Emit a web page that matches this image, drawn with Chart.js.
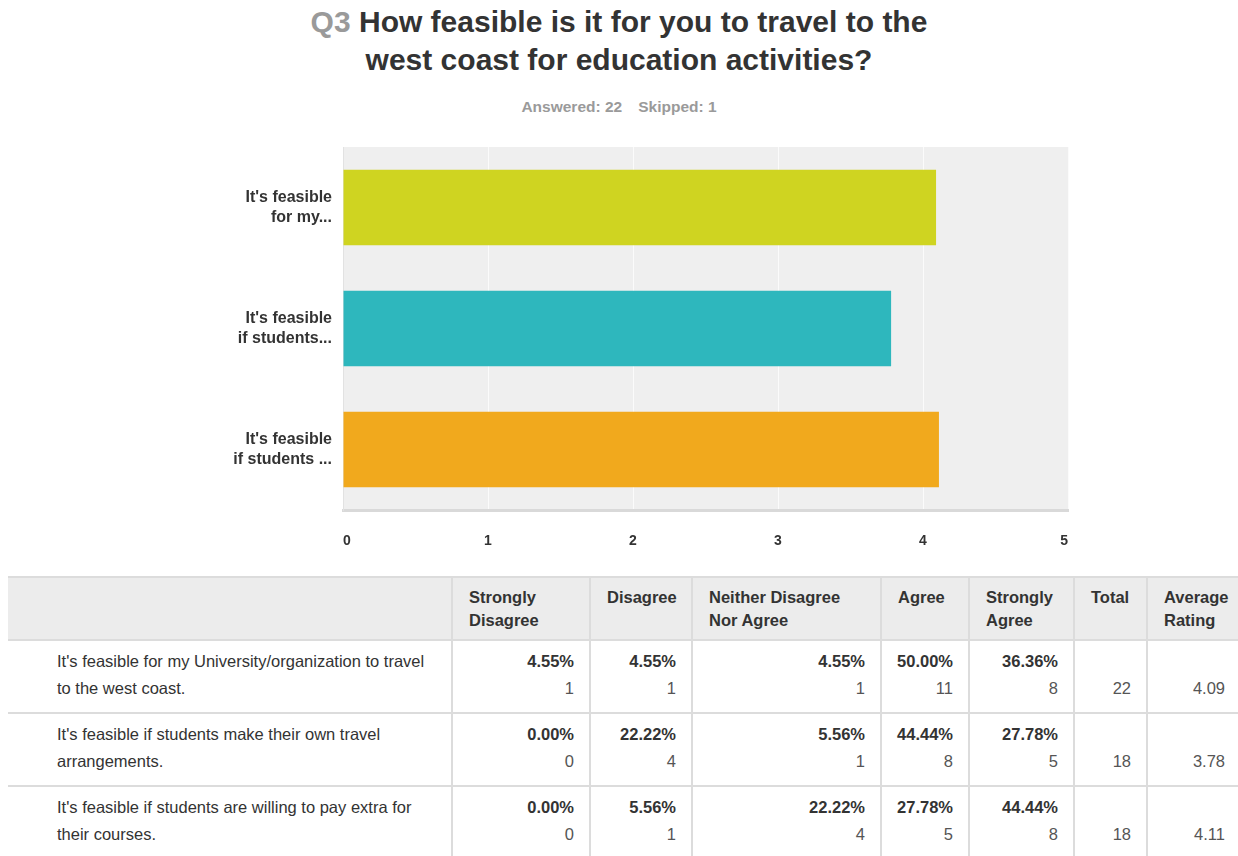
<!DOCTYPE html>
<html>
<head>
<meta charset="utf-8">
<script src="https://cdn.jsdelivr.net/npm/chart.js@4/dist/chart.umd.min.js"></script>
<style>
  body { margin: 0; width: 1238px; height: 856px; overflow: hidden; background: #fff;
         font-family: "Liberation Sans", Arial, Helvetica, sans-serif; position: relative; }
  #title { position: absolute; top: 3px; left: 0; width: 1238px; text-align: center;
           font-weight: bold; font-size: 30px; line-height: 38px; color: #333; }
  #title .q { color: #9a9a9a; }
  #sub { position: absolute; top: 98px; left: 0; width: 1238px; text-align: center;
         font-weight: bold; font-size: 15.5px; color: #9a9a9a; }
  #sub span { margin: 0 8px; }
  #chartBox { position: absolute; left: 0; top: 140px; }
  table { position: absolute; left: 8px; top: 576px; border-collapse: collapse; table-layout: fixed;
          width: 1233px; color: #333; font-size: 16.5px; }
  th { background: #ececec; font-weight: bold; font-size: 16.5px; text-align: left; vertical-align: top;
       padding: 8px 8px 0 16px; height: 53px; line-height: 23px; border: 2px solid #dcdcdc; }
  td { border: 2px solid #dcdcdc; border-top: 0; height: 64px; padding: 7px 15px 0 8px; vertical-align: top;
       line-height: 27px; text-align: right; }
  td.lbl { text-align: left; padding-left: 49px; padding-right: 20px; }
  td b { color: #333; }
  td .n { color: #555; }
  tr > :first-child { border-left: 0; }
</style>
</head>
<body>
<div id="title"><span class="q">Q3</span> How feasible is it for you to travel to the<br>west coast for education activities?</div>
<div id="sub"><span>Answered: 22</span><span>Skipped: 1</span></div>
<div id="chartBox"><canvas id="myChart" width="1100" height="420"></canvas></div>
<table id="tbl"></table>

<script>
// bar chart data
var rowLabels = [["It's feasible", "for my..."], ["It's feasible", "if students..."], ["It's feasible", "if students ..."]];
var avgRating = [4.09, 3.78, 4.11];
var barColors = ['#cfd421', '#2eb7bd', '#f1a91d'];
var xTicks = [0, 1, 2, 3, 4, 5];

// table data
var fullLabels = [
  "It's feasible for my University/organization to travel to the west coast.",
  "It's feasible if students make their own travel arrangements.",
  "It's feasible if students are willing to pay extra for their courses."
];
var headers = [["Strongly", "Disagree"], ["Disagree"], ["Neither Disagree", "Nor Agree"], ["Agree"], ["Strongly", "Agree"], ["Total"], ["Average", "Rating"]];
var pctRows = [
  [4.55, 4.55, 4.55, 50.00, 36.36],
  [0.00, 22.22, 5.56, 44.44, 27.78],
  [0.00, 5.56, 22.22, 27.78, 44.44]
];
var countRows = [
  [1, 1, 1, 11, 8],
  [0, 4, 1, 8, 5],
  [0, 1, 4, 5, 8]
];
var totals = [22, 18, 18];
var colWidths = [444, 138, 102, 189, 88, 105, 73, 94];

// grey plot background
var plotBg = {
  id: 'plotBg',
  beforeDraw: function(chart) {
    var a = chart.chartArea, c = chart.ctx;
    c.save();
    c.fillStyle = '#efefef';
    c.fillRect(a.left, a.top, a.right - a.left, a.bottom - a.top);
    c.restore();
  }
};

var myChart = new Chart(document.getElementById('myChart'), {
  type: 'bar',
  data: {
    labels: rowLabels,
    datasets: [{
      data: avgRating,
      backgroundColor: barColors,
      barPercentage: 0.625,
      categoryPercentage: 1
    }]
  },
  options: {
    indexAxis: 'y',
    responsive: false,
    animation: false,
    layout: { padding: { top: 7, right: 32, left: 0, bottom: 0 } },
    plugins: { legend: { display: false }, tooltip: { enabled: false } },
    scales: {
      x: {
        min: xTicks[0],
        max: xTicks[xTicks.length - 1],
        afterBuildTicks: function(s) { s.ticks = xTicks.map(function(v) { return { value: v }; }); },
        afterFit: function(s) { s.height = 50; },
        grid: { color: '#fbfbfb', lineWidth: 1, drawTicks: false },
        border: { color: '#d9d9d9', width: 3 },
        ticks: { padding: 23, align: 'inner', color: '#333', font: { family: 'Liberation Sans', size: 14, weight: 'bold' } }
      },
      y: {
        // fixed label column, and no extra room above/below for the two-line labels
        afterFit: function(s) { s.width = 343; s.paddingTop = 0; s.paddingBottom = 0; },
        grid: { display: false, drawTicks: false },
        border: { color: '#e2e2e2', width: 1 },
        ticks: { padding: 11, color: '#333', font: { family: 'Liberation Sans', size: 16, weight: 'bold', lineHeight: 1.25 } }
      }
    }
  },
  plugins: [plotBg]
});

// results table
var html = '<colgroup>';
colWidths.forEach(function(w) { html += '<col style="width:' + w + 'px">'; });
html += '</colgroup><tr><th></th>';
headers.forEach(function(h) { html += '<th>' + h.join('<br>') + '</th>'; });
html += '</tr>';
for (var i = 0; i < fullLabels.length; i++) {
  html += '<tr><td class="lbl">' + fullLabels[i] + '</td>';
  for (var j = 0; j < pctRows[i].length; j++) {
    html += '<td><b>' + pctRows[i][j].toFixed(2) + '%</b><br><span class="n">' + countRows[i][j] + '</span></td>';
  }
  html += '<td>&nbsp;<br><span class="n">' + totals[i] + '</span></td>';
  html += '<td>&nbsp;<br><span class="n">' + avgRating[i].toFixed(2) + '</span></td></tr>';
}
document.getElementById('tbl').innerHTML = html;
</script>
</body>
</html>
